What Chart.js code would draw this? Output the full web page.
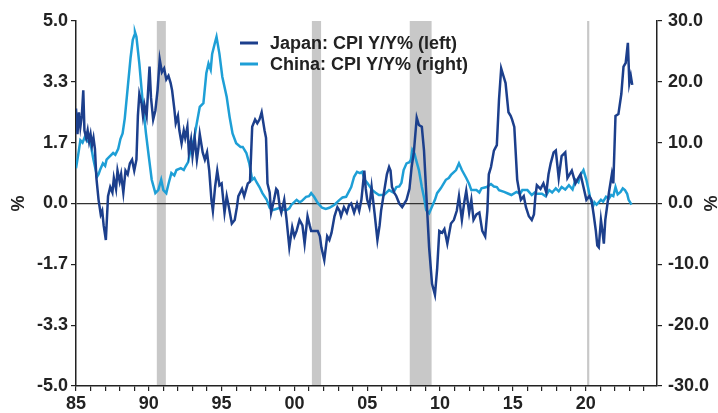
<!DOCTYPE html>
<html>
<head>
<meta charset="utf-8">
<script src="https://cdn.jsdelivr.net/npm/chart.js@4.4.0/dist/chart.umd.min.js"></script>
<style>
body { margin: 0; background: #fff; }
#wrap { width: 718px; height: 413px; }
</style>
</head>
<body>
<div id="wrap"><canvas id="myChart" width="718" height="413"></canvas></div>
<script>
// Japan CPI Y/Y% (left axis)
var japanYears = [1985.0,1985.1,1985.2,1985.3,1985.4,1985.5,1985.58,1985.7,1985.8,1985.9,1986.0,1986.1,1986.2,1986.3,1986.4,1986.55,1986.7,1986.8,1986.9,1987.05,
  1987.2,1987.35,1987.5,1987.6,1987.75,1987.85,1988.0,1988.1,1988.25,1988.4,1988.55,1988.7,1988.85,1989.0,1989.15,1989.25,1989.35,1989.5,1989.6,1989.7,
  1989.85,1990.05,1990.15,1990.3,1990.45,1990.6,1990.75,1990.9,1991.05,1991.2,1991.35,1991.5,1991.6,1991.75,1991.85,1992.0,1992.1,1992.25,1992.4,1992.5,
  1992.65,1992.75,1992.9,1993.0,1993.15,1993.3,1993.4,1993.5,1993.7,1993.85,1994.0,1994.15,1994.3,1994.4,1994.55,1994.7,1994.85,1995.0,1995.2,1995.35,
  1995.5,1995.7,1995.9,1996.05,1996.15,1996.4,1996.55,1996.8,1996.95,1997.1,1997.3,1997.45,1997.6,1997.75,1997.95,1998.05,1998.15,1998.3,1998.4,1998.6,
  1998.75,1998.85,1999.0,1999.1,1999.3,1999.45,1999.65,1999.85,2000.0,2000.15,2000.35,2000.55,2000.7,2000.9,2001.05,2001.15,2001.35,2001.6,2001.75,2001.85,
  2002.05,2002.25,2002.4,2002.55,2002.75,2002.95,2003.1,2003.2,2003.4,2003.6,2003.75,2003.9,2004.1,2004.3,2004.45,2004.6,2004.8,2004.9,2005.0,2005.15,
  2005.3,2005.5,2005.7,2005.85,2005.95,2006.15,2006.35,2006.5,2006.6,2006.7,2006.85,2007.0,2007.2,2007.4,2007.55,2007.7,2007.9,2008.05,2008.2,2008.4,
  2008.55,2008.75,2008.9,2009.05,2009.25,2009.45,2009.65,2009.8,2009.95,2010.15,2010.3,2010.5,2010.75,2010.95,2011.15,2011.3,2011.5,2011.65,2011.8,2012.0,
  2012.15,2012.3,2012.5,2012.7,2012.9,2013.1,2013.25,2013.35,2013.5,2013.7,2013.9,2014.05,2014.2,2014.35,2014.5,2014.7,2014.85,2014.95,2015.1,2015.3,
  2015.45,2015.55,2015.75,2015.9,2016.1,2016.3,2016.45,2016.55,2016.65,2016.9,2017.1,2017.3,2017.45,2017.6,2017.8,2017.95,2018.15,2018.35,2018.6,2018.75,
  2018.9,2019.05,2019.3,2019.5,2019.65,2019.85,2020.05,2020.25,2020.4,2020.55,2020.7,2020.8,2020.9,2021.05,2021.15,2021.25,2021.35,2021.5,2021.6,2021.8,
  2021.9,2022.05,2022.25,2022.45,2022.6,2022.75,2022.9,2023.0,2023.1,2023.2];
var japanCpi = [2.6,1.9,2.5,2.1,2.4,3.1,2.0,1.8,2.0,1.7,1.9,1.6,1.8,1.5,0.7,0.1,-0.3,-0.2,-0.6,-1.0,
  0.2,0.45,0.3,0.7,0.4,0.9,0.6,0.8,0.3,0.9,0.8,1.1,1.2,0.9,1.2,2.4,3.0,2.75,2.4,2.7,
  2.4,3.75,2.9,2.3,2.55,3.1,3.95,3.6,3.7,3.4,3.5,3.3,3.1,2.6,2.2,2.4,2.0,1.65,2.0,1.8,
  2.1,1.4,1.75,1.3,1.8,1.2,1.5,1.9,1.4,1.2,1.4,0.9,0.1,-0.2,0.45,0.9,0.5,0.55,-0.25,0.2,
  -0.1,-0.55,-0.45,-0.1,0.2,0.4,0.2,0.55,0.6,2.1,2.3,2.2,2.3,2.5,2.0,1.8,0.55,0.3,-0.25,0.1,
  0.4,0.35,-0.1,-0.25,0.1,-0.4,-1.2,-0.65,-0.9,-0.75,-0.45,-0.6,-1.1,-0.35,-0.6,-0.75,-0.75,-0.75,-0.9,-1.2,
  -1.55,-0.9,-1.0,-0.8,-0.35,-0.1,-0.2,-0.35,-0.1,-0.25,-0.05,0.0,-0.25,0.0,-0.2,0.1,0.9,0.4,0.1,-0.1,
  0.45,-0.25,-1.0,-0.6,-0.2,0.3,0.8,1.0,0.9,0.45,0.3,0.2,0.0,-0.1,0.0,0.1,0.4,1.0,1.4,2.35,
  2.15,2.1,1.45,0.3,-1.2,-2.2,-2.5,-1.8,-0.75,-0.8,-0.7,-1.1,-0.55,-0.45,-0.2,0.2,-0.45,0.0,0.35,-0.25,
  0.1,-0.45,-0.3,-0.25,-0.75,-0.9,-0.2,0.8,1.0,1.45,1.6,2.85,3.7,3.5,3.3,2.5,2.4,2.3,2.1,0.65,
  0.3,0.1,0.2,-0.1,-0.35,-0.45,-0.3,0.2,0.5,0.4,0.55,0.3,0.8,1.1,1.4,1.45,0.7,1.3,1.4,0.7,
  0.8,0.9,0.55,0.7,0.8,0.45,0.1,0.2,0.1,-0.3,-0.75,-1.15,-1.2,-0.45,-0.75,-1.1,-0.45,0.0,0.3,0.8,
  0.55,2.4,2.45,3.0,3.75,3.85,4.4,3.3,3.5,3.25];

// China CPI Y/Y% (right axis)
var chinaYears = [1985.0,1985.15,1985.3,1985.45,1985.6,1985.8,1985.95,1986.1,1986.2,1986.45,1986.55,1986.65,1986.85,1987.0,1987.1,1987.3,1987.55,1987.7,1987.9,1988.05,
  1988.2,1988.35,1988.55,1988.75,1988.9,1989.0,1989.05,1989.15,1989.35,1989.55,1989.8,1990.0,1990.2,1990.45,1990.65,1990.85,1991.0,1991.2,1991.35,1991.55,
  1991.75,1991.9,1992.2,1992.4,1992.5,1992.7,1992.9,1993.1,1993.25,1993.5,1993.75,1993.95,1994.1,1994.25,1994.35,1994.55,1994.65,1994.85,1995.05,1995.35,
  1995.55,1995.75,1996.0,1996.3,1996.45,1996.7,1996.9,1997.1,1997.25,1997.4,1997.6,1997.8,1998.1,1998.3,1998.5,1998.75,1999.0,1999.2,1999.45,1999.65,
  1999.8,2000.15,2000.35,2000.5,2000.8,2001.0,2001.15,2001.35,2001.6,2001.9,2002.15,2002.4,2002.75,2003.1,2003.3,2003.55,2003.9,2004.1,2004.3,2004.5,
  2004.65,2004.85,2005.0,2005.35,2005.55,2005.8,2006.15,2006.5,2006.8,2007.0,2007.2,2007.35,2007.5,2007.7,2007.9,2008.0,2008.1,2008.25,2008.35,2008.55,
  2008.75,2008.9,2009.05,2009.25,2009.45,2009.65,2009.8,2010.05,2010.4,2010.6,2010.75,2011.1,2011.3,2011.5,2011.8,2012.0,2012.15,2012.5,2012.7,2012.85,
  2013.2,2013.5,2013.7,2013.9,2014.05,2014.4,2014.7,2014.9,2015.25,2015.5,2015.65,2016.0,2016.3,2016.5,2016.65,2017.0,2017.25,2017.5,2017.7,2017.95,
  2018.15,2018.35,2018.6,2018.85,2019.1,2019.3,2019.5,2019.65,2019.85,2020.05,2020.3,2020.5,2020.6,2020.75,2021.05,2021.2,2021.4,2021.6,2021.75,2021.9,
  2022.05,2022.2,2022.4,2022.55,2022.7,2022.85,2022.95,2023.15];
var chinaCpi = [5.8,8.0,10.4,10.0,10.9,10.2,10.4,8.5,7.2,4.4,4.8,5.5,6.6,6.2,7.2,7.7,8.3,8.0,9.0,10.6,
  11.5,14.0,19.0,24.0,26.9,27.6,28.2,27.4,23.0,17.5,11.6,7.7,3.9,1.7,2.2,3.9,2.2,1.7,3.2,5.0,
  4.6,5.5,5.8,5.5,6.0,6.8,9.3,10.5,12.6,15.9,16.5,21.4,23.0,22.0,24.6,26.5,27.4,24.6,20.8,17.5,
  14.2,11.5,9.9,9.3,9.3,8.3,6.6,3.9,4.2,3.5,2.7,1.7,0.6,-0.7,-1.1,-0.9,-0.7,-1.0,-1.1,-0.8,
  -0.2,0.6,0.2,0.4,1.1,1.2,1.7,1.1,0.1,-0.7,-0.9,-0.7,-0.2,0.6,1.0,1.1,2.7,4.4,5.2,5.0,
  5.2,3.8,3.4,2.2,1.8,1.4,1.4,2.2,1.8,2.7,2.8,3.4,5.5,6.6,6.8,7.2,8.8,8.2,7.2,5.5,
  2.7,1.0,-1.1,-1.6,-0.5,0.6,1.7,2.5,3.9,4.2,4.7,5.5,6.6,5.5,4.2,3.2,2.2,2.2,1.8,2.5,
  2.7,3.2,2.8,2.7,2.2,1.9,1.6,1.4,1.9,1.6,2.2,2.2,1.4,1.8,1.6,1.6,1.2,2.2,1.8,2.5,
  2.0,2.7,2.3,3.0,2.3,3.9,3.5,4.7,5.5,3.9,1.1,-0.5,0.2,-0.2,0.6,0.3,1.1,0.8,1.4,1.2,
  2.7,1.5,1.9,2.5,2.2,1.6,0.6,-0.2];

// US recession bands (years)
var recessionStart = [1990.55, 2001.2, 2007.92, 2020.1];
var recessionEnd = [1991.17, 2001.83, 2009.42, 2020.25];

var xTickYears = [];
for (var yr = 1985; yr <= 2024; yr++) xTickYears.push(yr);
var leftTicks = [-5, -10 / 3, -5 / 3, 0, 5 / 3, 10 / 3, 5];
var rightTicks = [-30, -20, -10, 0, 10, 20, 30];

var font = { family: '"Liberation Sans", Arial, sans-serif', size: 18, weight: 'bold' };
var inkColor = '#222';

function toPoints(xs, ys) {
    return xs.map(function (x, i) { return { x: x, y: ys[i] }; });
}

var recessionBands = {
    id: 'recessionBands',
    beforeDraw: function (chart) {
        var ctx = chart.ctx, area = chart.chartArea, xs = chart.scales.x;
        ctx.save();
        ctx.fillStyle = '#c8c8c8';
        for (var i = 0; i < recessionStart.length; i++) {
            var a = xs.getPixelForValue(recessionStart[i]);
            var b = xs.getPixelForValue(recessionEnd[i]);
            ctx.fillRect(a, area.top, Math.max(b - a, 1.5), area.bottom - area.top);
        }
        ctx.restore();
    }
};

var insideLegend = {
    id: 'insideLegend',
    afterDraw: function (chart) {
        var ctx = chart.ctx;
        ctx.save();
        ctx.font = 'bold 18px "Liberation Sans", Arial, sans-serif';
        ctx.textBaseline = 'middle';
        chart.data.datasets.forEach(function (ds, i) {
            var y = 43 + i * 21;
            ctx.strokeStyle = ds.borderColor;
            ctx.lineWidth = 3;
            ctx.beginPath();
            ctx.moveTo(240, y);
            ctx.lineTo(258, y);
            ctx.stroke();
            ctx.fillStyle = inkColor;
            ctx.fillText(ds.label, 270, y + 1);
        });
        ctx.restore();
    }
};

var ctx = document.getElementById("myChart");
var myChart = new Chart(ctx, {
    type: 'line',
    data: {
        datasets: [
            {
                label: 'Japan: CPI Y/Y% (left)',
                data: toPoints(japanYears, japanCpi),
                borderColor: '#1c3f8c',
                borderWidth: 2.5,
                pointRadius: 0,
                yAxisID: 'y'
            },
            {
                label: 'China: CPI Y/Y% (right)',
                data: toPoints(chinaYears, chinaCpi),
                borderColor: '#1e9fd6',
                borderWidth: 2.5,
                pointRadius: 0,
                yAxisID: 'y2'
            }
        ]
    },
    plugins: [recessionBands, insideLegend],
    options: {
        responsive: false,
        animation: false,
        layout: { padding: { top: 21, left: 0, right: 0, bottom: 0 } },
        plugins: {
            legend: { display: false },
            tooltip: { enabled: false }
        },
        scales: {
            x: {
                type: 'linear',
                min: 1985,
                max: 2024.9,
                afterBuildTicks: function (scale) {
                    scale.ticks = xTickYears.map(function (v) { return { value: v }; });
                },
                afterFit: function (scale) { scale.height = 27; },
                ticks: {
                    autoSkip: false,
                    maxRotation: 0,
                    padding: 2,
                    color: inkColor,
                    font: font,
                    callback: function (v) {
                        return v % 5 === 0 ? String(v % 100).padStart(2, '0') : '';
                    }
                },
                grid: { drawOnChartArea: false, tickLength: 5, tickColor: inkColor, lineWidth: 1.2 },
                border: { color: inkColor, width: 1.5 }
            },
            y: {
                position: 'left',
                min: -5,
                max: 5,
                afterBuildTicks: function (scale) {
                    scale.ticks = leftTicks.map(function (v) { return { value: v }; });
                },
                afterFit: function (scale) { scale.width = 76; },
                ticks: {
                    padding: 3,
                    color: inkColor,
                    font: font,
                    callback: function (v) { return v.toFixed(1); }
                },
                title: {
                    display: true,
                    text: '%',
                    color: inkColor,
                    font: { family: font.family, size: 18, weight: 'bold', lineHeight: 1 },
                    padding: { top: 10, bottom: 0 }
                },
                grid: {
                    color: function (c) { return c.tick && c.tick.value === 0 ? '#333' : 'rgba(0,0,0,0)'; },
                    lineWidth: 1.2,
                    tickLength: 5,
                    tickColor: inkColor
                },
                border: { color: inkColor, width: 1.5 }
            },
            y2: {
                position: 'right',
                min: -30,
                max: 30,
                afterBuildTicks: function (scale) {
                    scale.ticks = rightTicks.map(function (v) { return { value: v }; });
                },
                afterFit: function (scale) { scale.width = 61; },
                ticks: {
                    padding: 6,
                    color: inkColor,
                    font: font,
                    callback: function (v) { return v.toFixed(1); }
                },
                title: {
                    display: true,
                    text: '%',
                    color: inkColor,
                    font: { family: font.family, size: 18, weight: 'bold', lineHeight: 1 },
                    padding: { top: 0, bottom: 0 }
                },
                grid: { drawOnChartArea: false, tickLength: 5, tickColor: inkColor, lineWidth: 1.2 },
                border: { color: inkColor, width: 1.5 }
            }
        }
    }
});
</script>
</body>
</html>
